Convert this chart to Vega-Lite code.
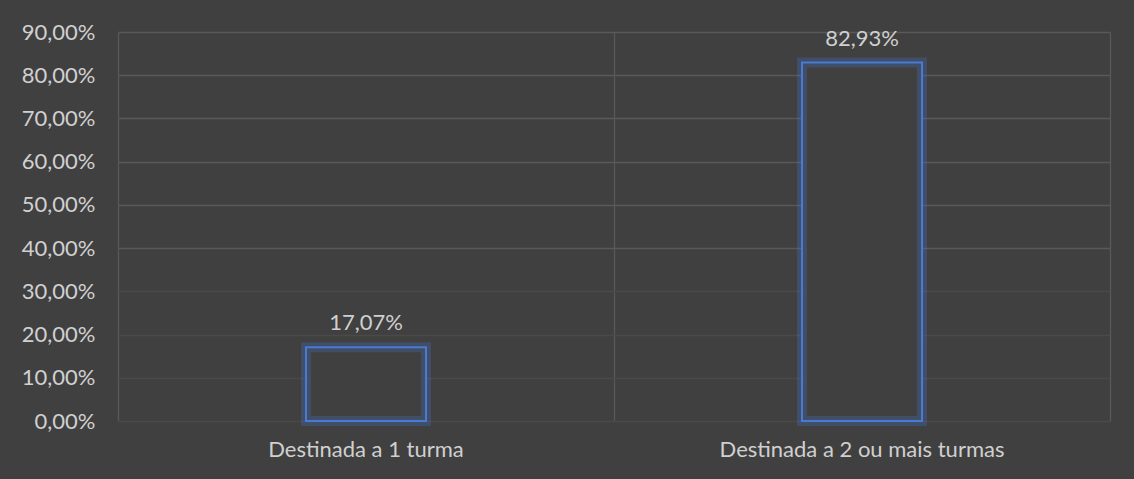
{
  "$schema": "https://vega.github.io/schema/vega-lite/v6.json",
  "width": 992,
  "height": 389,
  "autosize": {"type": "none"},
  "padding": {"left": 118, "top": 32, "right": 24, "bottom": 58},
  "background": "#404040",
  "config": {
    "view": {"stroke": null},
    "font": "Lato",
    "locale": {"number": {"decimal": ",", "thousands": ".", "grouping": [3], "currency": ["R$", ""]}}
  },
  "data": {"values": [
    {"categoria": "Destinada a 1 turma", "valor": 0.1707},
    {"categoria": "Destinada a 2 ou mais turmas", "valor": 0.8293}
  ]},
  "encoding": {
    "x": {
      "field": "categoria", "type": "nominal", "sort": null, "title": null,
      "scale": {"paddingInner": 0, "paddingOuter": 0},
      "axis": {
        "labelAngle": 0, "labelColor": "#d0d0d0", "labelFontSize": 22, "labelPadding": 18, "labelLimit": 500,
        "domain": false, "ticks": false, "grid": true, "bandPosition": 0,
        "gridColor": "#595959", "gridWidth": 1.3
      }
    },
    "y": {
      "field": "valor", "type": "quantitative", "title": null,
      "scale": {"domain": [0, 0.9], "nice": false},
      "axis": {
        "values": [0, 0.1, 0.2, 0.3, 0.4, 0.5, 0.6, 0.7, 0.8, 0.9],
        "format": ".2%", "labelColor": "#d0d0d0", "labelFontSize": 22, "labelPadding": 23,
        "domain": false, "ticks": false, "grid": true,
        "gridColor": {"condition": {"test": "datum.value < 0.35", "value": "#4a4a4a"}, "value": "#595959"},
        "gridWidth": 1.3
      }
    }
  },
  "layer": [
    {
      "mark": {"type": "bar", "width": {"band": 0.242}, "fill": "#404040", "stroke": "#4472c4", "strokeWidth": 10, "strokeOpacity": 0.3}
    },
    {
      "mark": {"type": "bar", "width": {"band": 0.242}, "fill": "#404040", "fillOpacity": 0, "stroke": "#4a7bd4", "strokeWidth": 2},
      "encoding": {
        "y": {"field": "valor", "type": "quantitative", "title": null, "axis": null}
      }
    },
    {
      "mark": {"type": "text", "color": "#d0d0d0", "fontSize": 22, "baseline": "alphabetic", "dy": -17},
      "encoding": {
        "text": {"field": "valor", "type": "quantitative", "format": ".2%"},
        "y": {
          "field": "valor", "type": "quantitative", "title": null,
          "axis": {"orient": "right", "labels": false, "ticks": false, "grid": false, "domain": true, "domainColor": "#595959", "domainWidth": 1.3}
        }
      }
    }
  ],
  "resolve": {"axis": {"y": "independent"}}
}
